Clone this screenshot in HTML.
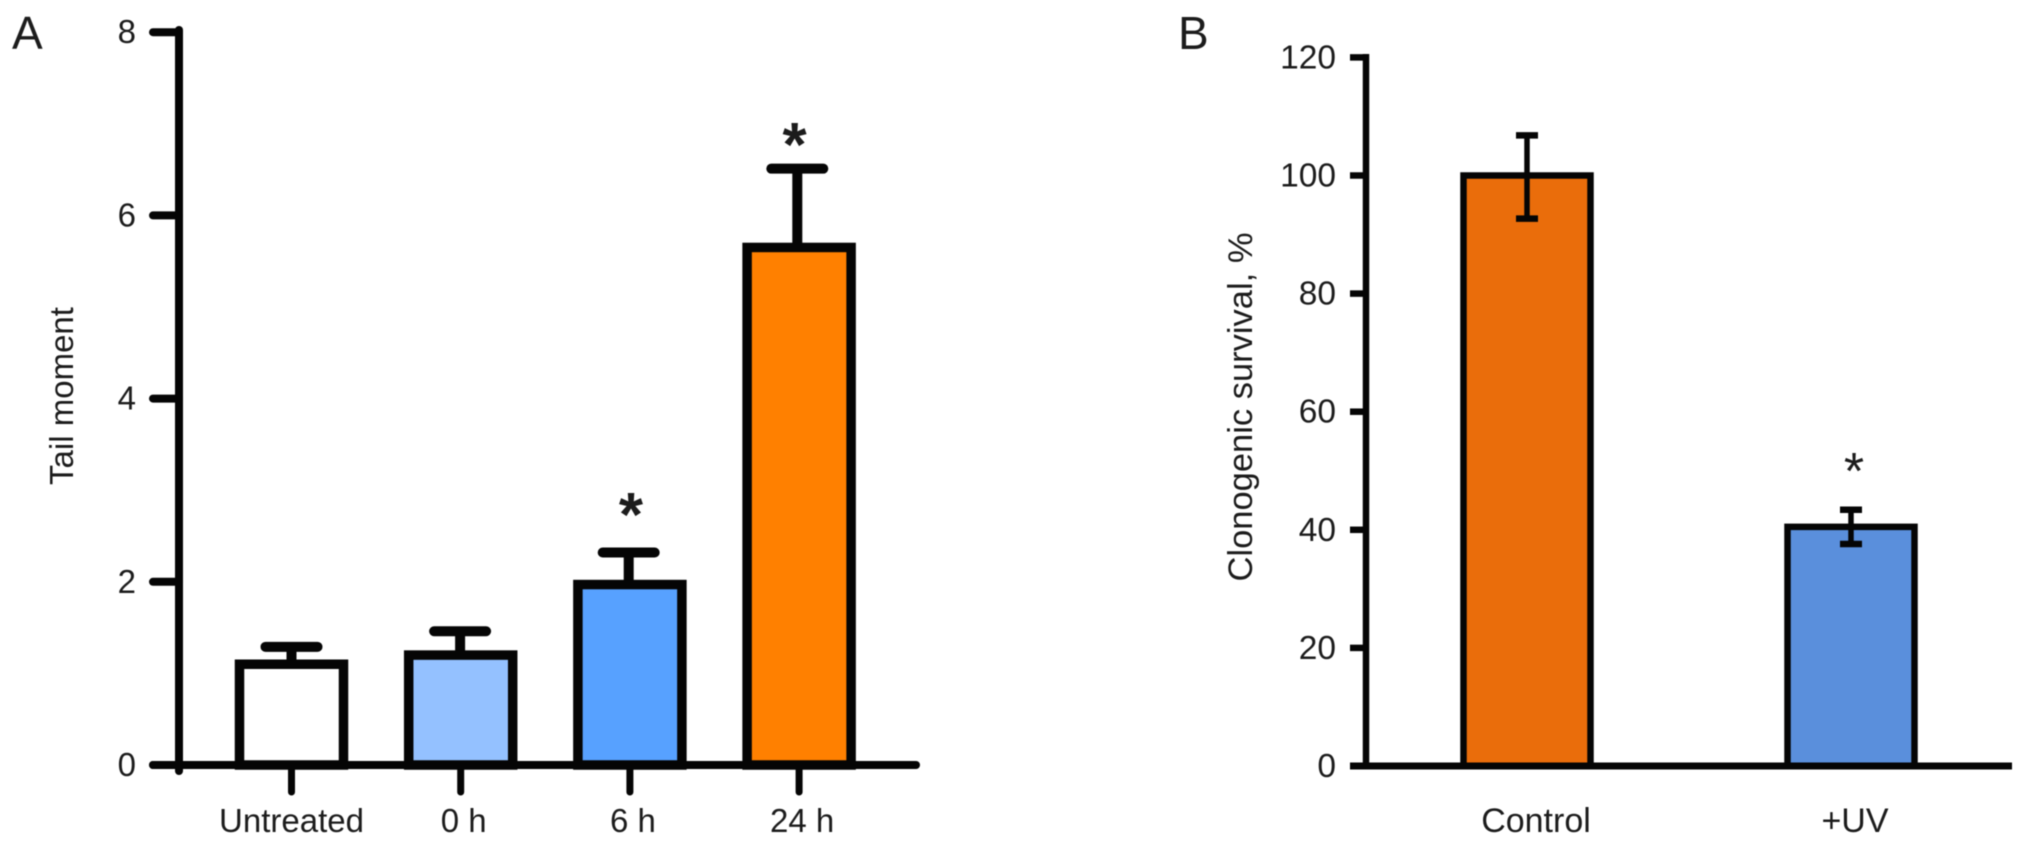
<!DOCTYPE html>
<html lang="en">
<head>
<meta charset="utf-8">
<title>Tail moment and clonogenic survival</title>
<style>
html,body{margin:0;padding:0;background:#fff;width:2032px;height:843px;overflow:hidden}
svg{display:block;filter:blur(0.6px)}
text{font-family:"Liberation Sans",Arial,sans-serif;fill:#1c1c1c}
</style>
</head>
<body>
<svg id="figure" xmlns="http://www.w3.org/2000/svg" width="2032" height="843" viewBox="0 0 2032 843"></svg>
<script>
// Panel A data
const tailCategories = ["Untreated", "0 h", "6 h", "24 h"];
const tailMeans = [1.1, 1.2, 1.97, 5.65];
const tailErrorTops = [1.29, 1.46, 2.32, 6.51];
const tailStarLevels = [null, null, 2.85, 6.89];
const tailTicks = [0, 2, 4, 6, 8];
const tailColors = ["#ffffff", "#94c1ff", "#57a1ff", "#ff8000"];

// Panel B data
const survivalCategories = ["Control", "+UV"];
const survivalMeans = [100, 40.5];
const survivalErrorTops = [106.8, 43.4];
const survivalErrorBottoms = [92.7, 37.6];
const survivalStarLevels = [null, 46.9];
const survivalTicks = [0, 20, 40, 60, 80, 100, 120];
const survivalColors = ["#ea6d0b", "#5a8fdc"];

const NS = "http://www.w3.org/2000/svg";
const fig = document.getElementById("figure");

function make(tag, parent, props) {
  const el = document.createElementNS(NS, tag);
  for (const k in props) el.setAttribute(k, props[k]);
  parent.appendChild(el);
  return el;
}
function group(parent) {
  return make("g", parent, {});
}
function lineEl(parent, x1, y1, x2, y2, w, cap) {
  return make("line", parent, {x1: x1, y1: y1, x2: x2, y2: y2, stroke: "#050505", "stroke-width": w, "stroke-linecap": cap || "butt"});
}
function textEl(parent, str, x, y, size, anchor, extra) {
  const t = make("text", parent, Object.assign({x: x, y: y, "font-size": size, "text-anchor": anchor}, extra || {}));
  t.textContent = str;
  return t;
}

/* ---------- Panel A ---------- */
const aY = v => 765 - v * 91.6;
const aX = i => 291.5 + i * 169.2;
const aBarWidth = 104;
const aStroke = 9.5;

const panelA = group(fig);



const aLetter = textEl(panelA, "A", 12, 49, 46, "start");



const aTitle = textEl(panelA, "Tail moment", 0, 0, 33, "middle", {transform: "translate(73 396) rotate(-90)"});



tailCategories.forEach((cat, i) => {
  const stem = lineEl(panelA, aX(i) - i * 0.6, aY(tailMeans[i]), aX(i) - i * 0.6, aY(tailErrorTops[i]), 10);
  
  
  const cap = lineEl(panelA, aX(i) - i * 0.6 - 26, aY(tailErrorTops[i]), aX(i) - i * 0.6 + 26, aY(tailErrorTops[i]), 10, "round");
  
  
  const bar = make("rect", panelA, {x: aX(i) - aBarWidth / 2, y: aY(tailMeans[i]), width: aBarWidth, height: aY(0) - aY(tailMeans[i]), fill: tailColors[i], stroke: "#050505", "stroke-width": aStroke});
  
  
  const tick = lineEl(panelA, aX(i), aY(0), aX(i), 792, 7, "round");
  
  
  const label = textEl(panelA, cat, aX(i) + (i === 0 ? 0 : 3), 832, 33, "middle");
  
  
  if (tailStarLevels[i] !== null) {
    const star = textEl(panelA, "*", aX(i) + (i === 2 ? 1 : -4.5), aY(tailStarLevels[i]) + 32, 62, "middle", {"font-weight": "bold"});
    
    
  }
});

const aYAxis = lineEl(panelA, 179, 30, 179, 771, 8, "round");


const aXAxis = lineEl(panelA, 153, aY(0), 916, aY(0), 8, "round");



tailTicks.forEach(v => {
  const tick = lineEl(panelA, 153, aY(v), 179, aY(v), 8, "round");
  
  
  const label = textEl(panelA, String(v), 136, aY(v) + 11, 33, "end");
  
  
});

/* ---------- Panel B ---------- */
const bY = v => 766 - v * 5.905;
const bX = i => 1527 + i * 324;
const bBarWidth = 127;
const bStroke = 6.5;

const panelB = group(fig);



const bLetter = textEl(panelB, "B", 1178, 49, 46, "start");



const bTitle = textEl(panelB, "Clonogenic survival, %", 0, 0, 34.5, "middle", {transform: "translate(1252 407) rotate(-90)"});



survivalCategories.forEach((cat, i) => {
  const bar = make("rect", panelB, {x: bX(i) - bBarWidth / 2, y: bY(survivalMeans[i]), width: bBarWidth, height: bY(0) - bY(survivalMeans[i]), fill: survivalColors[i], stroke: "#050505", "stroke-width": bStroke});
  
  
  const stem = lineEl(panelB, bX(i), bY(survivalErrorTops[i]), bX(i), bY(survivalErrorBottoms[i]), 5.5);
  
  
  const capTop = lineEl(panelB, bX(i) - 11, bY(survivalErrorTops[i]), bX(i) + 11, bY(survivalErrorTops[i]), 6.5);
  
  
  const capBottom = lineEl(panelB, bX(i) - 11, bY(survivalErrorBottoms[i]), bX(i) + 11, bY(survivalErrorBottoms[i]), 6.5);
  
  
  const label = textEl(panelB, cat, bX(i) + 9 - i * 5, 832, 34, "middle");
  
  
  if (survivalStarLevels[i] !== null) {
    const star = textEl(panelB, "*", bX(i) + 3, bY(survivalStarLevels[i]), 52, "middle");
    
    
  }
});

const bYAxis = lineEl(panelB, 1366, 54, 1366, 769, 6.5);


const bXAxis = lineEl(panelB, 1350, bY(0), 2012, bY(0), 7);



survivalTicks.forEach(v => {
  const tick = lineEl(panelB, 1350, bY(v), 1366, bY(v), 6.5);
  
  
  const label = textEl(panelB, String(v), 1336, bY(v) + 11, 33.5, "end");
  
  
});
</script>
</body>
</html>
